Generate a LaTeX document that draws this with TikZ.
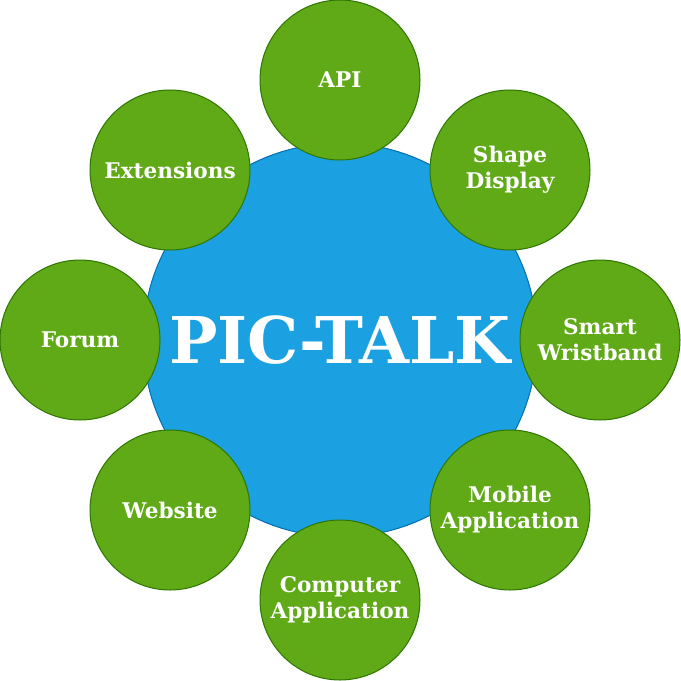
\documentclass[tikz,border=0pt]{standalone}
\usepackage{fontspec}
\setmainfont{DejaVu Serif}
\usepackage{tikz}
\usetikzlibrary{positioning}
\definecolor{hubblue}{HTML}{1BA1E2}
\definecolor{hubline}{HTML}{006EAF}
\definecolor{leafgreen}{HTML}{60A917}
\definecolor{leafline}{HTML}{2D7600}

\begin{document}
\begin{tikzpicture}[
x=0.75pt, y=-0.75pt,
every node/.style={circle, text=white, font=\bfseries, align=center, inner sep=0},
hub/.style={fill=hubblue, draw=hubline, line width=0.75pt, minimum size=295.5pt, font=\bfseries\fontsize{48.3}{52}\selectfont},
leaf/.style={fill=leafgreen, draw=leafline, line width=0.75pt, minimum size=120pt, font=\bfseries\fontsize{16.2}{19.5}\selectfont}
]
\useasboundingbox (0,0) rectangle (681,681);
\node[hub] (pic) at (340,340) {PIC-TALK};
\node[leaf] (api) at (340,80) {API};
\node[leaf] (shape) at (510,170) {Shape\\Display};
\node[leaf] (band) at (600,340) {Smart\\Wristband};
\node[leaf] (mobile) at (510,510) {Mobile\\Application};
\node[leaf] (computer) at (340,600) {Computer\\Application};
\node[leaf] (web) at (170,510) {Website};
\node[leaf] (forum) at (80,340) {Forum};
\node[leaf] (ext) at (170,170) {Extensions};
\end{tikzpicture}
\end{document}
